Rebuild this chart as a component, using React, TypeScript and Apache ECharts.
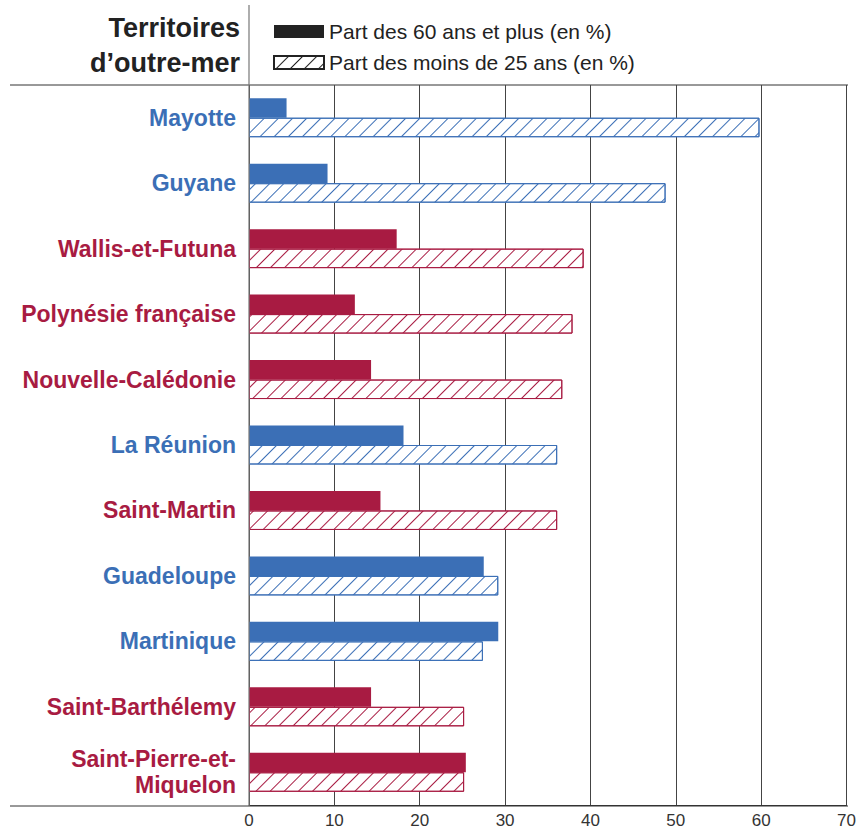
import React, { useEffect, useRef } from "react";
import * as echarts from "echarts";

const categories = [
  "Mayotte",
  "Guyane",
  "Wallis-et-Futuna",
  "Polynésie française",
  "Nouvelle-Calédonie",
  "La Réunion",
  "Saint-Martin",
  "Guadeloupe",
  "Martinique",
  "Saint-Barthélemy",
  "Saint-Pierre-et-\nMiquelon",
];
// "D" = département (blue), "C" = collectivité (red)
const groups = ["D", "D", "C", "C", "C", "D", "C", "D", "D", "C", "C"];
const seniors = [4.4, 9.2, 17.3, 12.4, 14.3, 18.1, 15.4, 27.5, 29.2, 14.3, 25.4];
const youth = [59.8, 48.8, 39.2, 37.9, 36.7, 36.1, 36.1, 29.2, 27.4, 25.2, 25.2];
const xTicks = [0, 10, 20, 30, 40, 50, 60, 70];
const seriesNames = ["Part des 60 ans et plus (en %)", "Part des moins de 25 ans (en %)"];
const titleText = "Territoires\nd’outre-mer";

const BLUE = "#3b6fb6";
const RED = "#a81b42";
const FONT = "'Liberation Sans', Arial, Helvetica, sans-serif";

const W = 859;
const H = 829;
const GRID = { left: 249, right: 11, top: 85, bottom: 23 };

const colorOf = (i: number) => (groups[i] === "D" ? BLUE : RED);

const hatch = (color: string) => ({
  symbol: "rect",
  symbolSize: 1,
  dashArrayX: [1, 0],
  dashArrayY: [1, 8.2],
  rotation: -Math.PI / 4,
  color,
});

export default function App() {
  const ref = useRef<HTMLDivElement>(null);
  useEffect(() => {
    document.body.style.margin = "0";
    if (!ref.current) return;
    const chart = echarts.init(ref.current, null, { renderer: "svg" });
    const x0 = GRID.left;
    const x1 = W - GRID.right;
    const yTop = GRID.top;
    const yBot = H - GRID.bottom;
    chart.setOption({
      animation: false,
      backgroundColor: "#fff",
      textStyle: { fontFamily: FONT },
      grid: { ...GRID, containLabel: false },
      legend: {
        left: 268,
        top: 16,
        orient: "vertical",
        itemWidth: 50,
        itemHeight: 13,
        itemGap: 10,
        icon: "rect",
        textStyle: { fontSize: 21, color: "#222", fontFamily: FONT },
        data: seriesNames,
      },
      xAxis: {
        type: "value",
        min: xTicks[0],
        max: xTicks[xTicks.length - 1],
        interval: 10,
        axisLine: { show: true, lineStyle: { color: "#333", width: 1 } },
        axisTick: { show: false },
        axisLabel: { fontSize: 17, color: "#333", margin: 7, fontFamily: FONT },
        splitLine: { show: true, lineStyle: { color: "#444", width: 1 } },
      },
      yAxis: {
        type: "category",
        inverse: true,
        data: categories,
        axisLine: { show: false },
        axisTick: { show: false },
        axisLabel: {
          fontSize: 23,
          fontWeight: "bold",
          fontFamily: FONT,
          margin: 13,
          lineHeight: 26,
          color: (_v: string, i: number) => colorOf(i),
        },
      },
      series: [
        {
          name: seriesNames[0],
          type: "bar",
          barWidth: 19.5,
          barGap: "0%",
          itemStyle: { color: "#222" },
          data: seniors.map((v, i) => ({ value: v, itemStyle: { color: colorOf(i) } })),
        },
        {
          name: seriesNames[1],
          type: "bar",
          barWidth: 19.5,
          barGap: "0%",
          itemStyle: { color: "#fff", borderColor: "#222", borderWidth: 1, decal: hatch("#222") },
          data: youth.map((v, i) => ({
            value: v,
            itemStyle: { color: "#fff", borderColor: colorOf(i), borderWidth: 1, decal: hatch(colorOf(i)) },
          })),
        },
      ],
      graphic: [
        {
          type: "text",
          x: 240,
          y: 10,
          style: {
            text: titleText,
            align: "right",
            verticalAlign: "top",
            font: `bold 27px ${FONT}`,
            lineHeight: 35,
            fill: "#222",
          },
        },
        {
          type: "line",
          shape: { x1: 10, y1: yTop, x2: x1, y2: yTop },
          style: { stroke: "#333", lineWidth: 1 },
        },
        {
          type: "line",
          shape: { x1: 10, y1: yBot, x2: x1, y2: yBot },
          style: { stroke: "#333", lineWidth: 1 },
        },
        {
          type: "line",
          shape: { x1: x0, y1: 5, x2: x0, y2: yBot },
          style: { stroke: "#777", lineWidth: 1.2 },
          z: 10,
        },
      ],
    });
    return () => chart.dispose();
  }, []);
  return <div ref={ref} style={{ width: W, height: H }} />;
}
